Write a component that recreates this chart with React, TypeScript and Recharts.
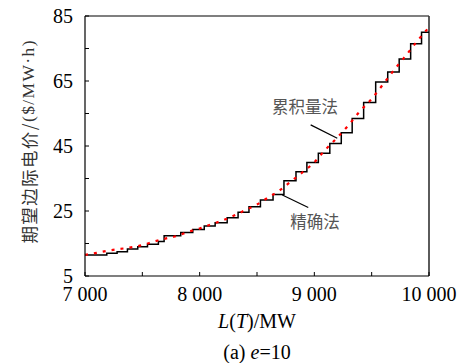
import { LineChart, Line, XAxis, YAxis, ReferenceLine, ReferenceDot, Label } from "recharts";

// 累积量法: step start (MW) and level ($/MW·h)
const stepX = [
  7000, 7190, 7280, 7370, 7460, 7545, 7640, 7690, 7835, 7940, 8040, 8135, 8240, 8335, 8430, 8530,
  8640, 8735, 8840, 8935, 9035, 9135, 9235, 9330, 9430, 9535, 9640, 9740, 9840, 9935, 10000,
];
const stepY = [
  11.5, 12.0, 12.5, 13.3, 14.0, 14.8, 15.6, 17.4, 18.4, 19.3, 20.4, 21.4, 22.9, 24.6, 26.3, 28.4,
  30.1, 34.3, 37.1, 39.9, 42.8, 45.8, 49.1, 53.5, 58.4, 64.7, 67.8, 71.8, 76.5, 80.0, 80.0,
];

// 精确法
const exactX = [
  7000, 7100, 7200, 7300, 7400, 7500, 7600, 7700, 7800, 7900, 8000, 8100, 8200, 8300, 8400, 8500,
  8600, 8700, 8800, 8900, 9000, 9100, 9200, 9300, 9400, 9500, 9600, 9700, 9800, 9900, 10000,
];
const exactY = [
  11.5, 12.1, 12.8, 13.3, 13.8, 14.5, 15.6, 16.5, 17.3, 18.6, 19.6, 20.9, 22.1, 23.6, 25.3, 27.0,
  29.2, 31.4, 34.2, 37.0, 40.0, 44.0, 47.6, 51.5, 55.8, 59.5, 64.0, 68.6, 72.9, 77.4, 81.5,
];

const xTicks = [7000, 7500, 8000, 8500, 9000, 9500, 10000];
const xLabelTicks = [7000, 8000, 9000, 10000];
const yTicks = [5, 15, 25, 35, 45, 55, 65, 75, 85];
const yLabelTicks = [5, 25, 45, 65, 85];

const stepData = stepX.map((x, i) => ({ x, y: stepY[i] }));
const exactData = exactX.map((x, i) => ({ x, y: exactY[i] }));

const SERIF = "'Liberation Serif', 'Times New Roman', serif";
const CJK = "'Noto Sans CJK SC', sans-serif";

const fmtX = (v: number) =>
  xLabelTicks.includes(v) ? String(v).replace(/\B(?=(\d{3})+(?!\d))/g, " ") : "";
const fmtY = (v: number) => (yLabelTicks.includes(v) ? String(v) : "");

function XTitle(props: any) {
  const vb = props.viewBox || { x: 85, y: 276, width: 344 };
  const cx = vb.x + vb.width / 2;
  return (
    <g fontFamily={SERIF} fontSize={20} fill="#000" textAnchor="middle">
      <text x={cx} y={vb.y + 52}>
        <tspan fontStyle="italic">L</tspan>(<tspan fontStyle="italic">T</tspan>)/MW
      </text>
      <text x={cx} y={vb.y + 83}>
        (a) <tspan fontStyle="italic">e</tspan>=10
      </text>
    </g>
  );
}

function YTitle(props: any) {
  const vb = props.viewBox || { x: 25, y: 16, height: 260 };
  const cx = vb.x + 3;
  const cy = vb.y + vb.height / 2 - 4;
  return (
    <text
      transform={`translate(${cx},${cy}) rotate(-90)`}
      textAnchor="middle"
      dominantBaseline="central"
      fontSize={17.5}
      fill="#333"
      textLength={203}
      lengthAdjust="spacing"
    >
      <tspan fontFamily={CJK}>期望边际电价/</tspan>
      <tspan fontFamily={SERIF}>($/MW·h)</tspan>
    </text>
  );
}

export default function App() {
  return (
    <div style={{ position: "absolute", left: 0, top: 0, width: 464, height: 363, background: "#fff" }}>
      <LineChart width={464} height={363} margin={{ top: 16, right: 35, bottom: 47, left: 25 }}>
        <XAxis
          dataKey="x"
          type="number"
          domain={[7000, 10000]}
          ticks={xTicks}
          interval={0}
          height={40}
          tickSize={-4}
          tickMargin={15}
          tickFormatter={fmtX}
          axisLine={{ stroke: "#000", strokeWidth: 1.2 }}
          tickLine={{ stroke: "#000" }}
          tick={{ fill: "#000", fontSize: 20, fontFamily: SERIF }}
        >
          <Label content={XTitle} />
        </XAxis>
        <YAxis
          type="number"
          domain={[5, 85]}
          ticks={yTicks}
          interval={0}
          width={60}
          tickSize={-4}
          tickMargin={16}
          tickFormatter={fmtY}
          axisLine={{ stroke: "#000", strokeWidth: 1.2 }}
          tickLine={{ stroke: "#000" }}
          tick={{ fill: "#000", fontSize: 20, fontFamily: SERIF }}
        >
          <Label content={YTitle} />
        </YAxis>
        <ReferenceLine y={85} stroke="#000" strokeWidth={1.2} />
        <ReferenceLine x={10000} stroke="#333" strokeWidth={1.6} />
        <Line
          data={stepData}
          dataKey="y"
          type="stepAfter"
          stroke="#000"
          strokeWidth={1.5}
          dot={false}
          isAnimationActive={false}
        />
        <Line
          data={exactData}
          dataKey="y"
          type="monotone"
          stroke="#ff0000"
          strokeWidth={2.2}
          strokeDasharray="3 6"
          dot={false}
          isAnimationActive={false}
        />
        <ReferenceLine
          segment={[
            { x: 8968, y: 51.5 },
            { x: 9200, y: 47.4 },
          ]}
          stroke="#000"
          strokeWidth={1.2}
        />
        <ReferenceLine
          segment={[
            { x: 8721, y: 29.9 },
            { x: 8947, y: 26.1 },
          ]}
          stroke="#000"
          strokeWidth={1.2}
        />
        <ReferenceDot
          x={8918}
          y={57}
          r={0}
          fill="none"
          stroke="none"
          label={{ value: "累积量法", position: "center", fontSize: 16.5, fill: "#555", fontFamily: CJK }}
        />
        <ReferenceDot
          x={9006}
          y={21.6}
          r={0}
          fill="none"
          stroke="none"
          label={{ value: "精确法", position: "center", fontSize: 16.5, fill: "#555", fontFamily: CJK }}
        />
      </LineChart>
    </div>
  );
}
